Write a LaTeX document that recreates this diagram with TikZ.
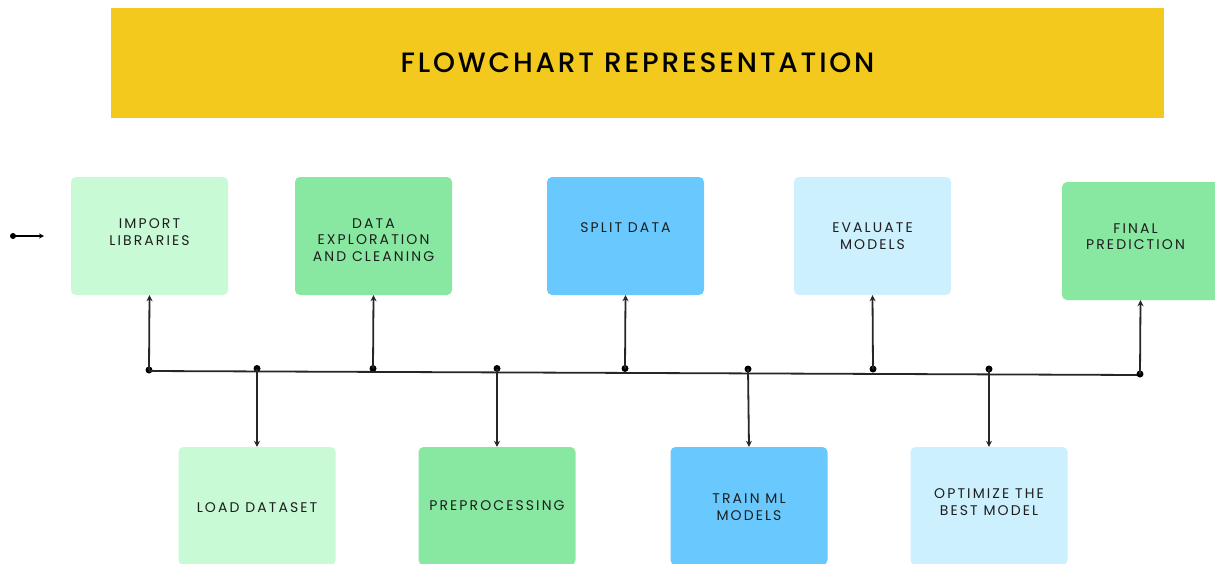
\documentclass[tikz,border=0pt]{standalone}
\usepackage{fontspec}
\setmainfont{Poppins}
\newfontfamily\boxfont[LetterSpace=15]{Poppins}
\newfontfamily\titlefont[LetterSpace=10]{Poppins Medium}
\usetikzlibrary{arrows.meta}
\definecolor{titleyellow}{HTML}{F2C91C}
\definecolor{paleg}{HTML}{C8FAD6}
\definecolor{midg}{HTML}{88E8A2}
\definecolor{blueb}{HTML}{69C9FE}
\definecolor{paleb}{HTML}{CDF0FE}
\definecolor{txt}{HTML}{1E1E1E}
\tikzset{
  stepbox/.style={rounded corners=5pt, minimum width=157pt, minimum height=118pt, inner sep=0pt},
  boxtext/.style={align=center, font=\boxfont\fontsize{14}{16.5}\selectfont, text=txt, inner sep=0pt},
  conn/.style={line width=1.8pt, draw=black!85, -{Stealth[length=6pt,width=6pt]}},
  busline/.style={line width=1.8pt, draw=black!85},
  dot/.style={circle, fill=black, inner sep=0pt, minimum size=7pt}
}
\begin{document}
\begin{tikzpicture}[x=1pt,y=-1pt]
\useasboundingbox (0,0) rectangle (1215,563);
\clip (0,0) rectangle (1215,563);
\fill[white] (0,0) rectangle (1215,563);
% title
\node[fill=titleyellow, minimum width=1053pt, minimum height=110pt, inner sep=0pt,
  font=\titlefont\fontsize{28}{32}\selectfont, text=black] (title) at (637.5,63) {FLOWCHART REPRESENTATION};
% top row
\node[stepbox, fill=paleg, label={[boxtext, yshift=4pt]center:IMPORT\\LIBRARIES}] (imp) at (149.5,236) {};
\node[stepbox, fill=midg, label={[boxtext, yshift=-4pt]center:DATA\\EXPLORATION\\AND CLEANING}] (expl) at (373.5,236) {};
\node[stepbox, fill=blueb, label={[boxtext, yshift=8pt]center:SPLIT DATA}] (split) at (625.5,236) {};
\node[stepbox, fill=paleb, label={[boxtext]center:EVALUATE\\MODELS}] (eval) at (872.5,236) {};
\node[stepbox, fill=midg, label={[boxtext, yshift=4.5pt, xshift=-5pt]center:FINAL\\PREDICTION}] (final) at (1140.5,241) {};
% bottom row
\node[stepbox, fill=paleg, label={[boxtext, yshift=-2pt]center:LOAD DATASET}] (load) at (257,506) {};
\node[stepbox, fill=midg, label={[boxtext]center:PREPROCESSING}] (prep) at (497,506) {};
\node[stepbox, fill=blueb, label={[boxtext, yshift=-1pt]center:TRAIN ML\\MODELS}] (train) at (749,506) {};
\node[stepbox, fill=paleb, label={[boxtext, yshift=4pt]center:OPTIMIZE THE\\BEST MODEL}] (opt) at (989,506) {};
% start arrow
\node[dot, minimum size=6pt] (s0) at (13,236) {};
\coordinate (s1) at (44,236);
\draw[line width=1.5pt, -{Stealth[length=5pt,width=5pt]}] (s0.center) -- (s1);
% bus
\node[dot] (b1) at (149,370) {};
\node[dot] (b2) at (257,368.5) {};
\node[dot] (b3) at (373,368.5) {};
\node[dot] (b4) at (497,368.5) {};
\node[dot] (b5) at (625,368.5) {};
\node[dot] (b6) at (748,369) {};
\node[dot] (b7) at (873,369) {};
\node[dot] (b8) at (989,369) {};
\coordinate (bl) at (149,371);
\coordinate (br) at (1140,375);
\draw[busline] (bl) -- (br);
\node[dot] (b9) at (1140,374) {};
% vertical connectors
\draw[conn] (b1.center) -- (imp.south);
\draw[conn] (b3.center) -- (expl.south);
\draw[conn] (b5.center) -- (split.south);
\draw[conn] (b7.center) -- (eval.south);
\draw[conn] (b9.center) -- (final.south);
\draw[conn] (b2.center) -- (load.north);
\draw[conn] (b4.center) -- (prep.north);
\draw[conn] (b6.center) -- (train.north);
\draw[conn] (b8.center) -- (opt.north);
\end{tikzpicture}
\end{document}
